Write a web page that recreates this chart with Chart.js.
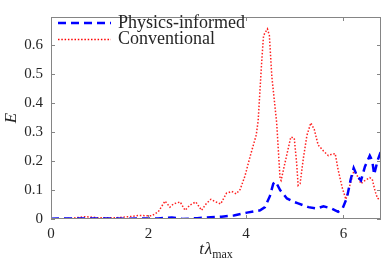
<!DOCTYPE html>
<html lang="en">
<head>
  <meta charset="UTF-8" />
  <title>E vs t lambda max</title>
  <script src="https://cdn.jsdelivr.net/npm/chart.js"></script>
  <style>
    html, body { margin: 0; padding: 0; background: #fff; }
    .wrap { width: 383px; height: 266px; }
  </style>
</head>
<body>
  <div class="wrap"><canvas id="errChart" width="383" height="266"></canvas></div>
  <script>
    // data
    const physT = [0, 0.4, 0.8, 1.2, 1.6, 2.0, 2.2, 2.48, 2.7, 3.0, 3.5, 3.75, 4.02, 4.29, 4.39, 4.49, 4.56, 4.61, 4.70, 4.84, 4.97, 5.07, 5.28, 5.45, 5.59, 5.76, 5.89, 5.98, 6.07, 6.15, 6.21, 6.28, 6.36, 6.44, 6.54, 6.59, 6.63, 6.70, 6.77];
    const physE = [0.001, 0.002, 0.002, 0.002, 0.001, 0.002, 0.002, 0.005, 0.0, 0.003, 0.008, 0.012, 0.022, 0.03, 0.041, 0.079, 0.122, 0.129, 0.10, 0.071, 0.06, 0.054, 0.041, 0.036, 0.044, 0.036, 0.025, 0.036, 0.073, 0.138, 0.176, 0.149, 0.133, 0.181, 0.219, 0.202, 0.154, 0.202, 0.235];

    const convT = [0, 0.4, 0.7, 1.0, 1.3, 1.6, 1.8, 2.07, 2.2, 2.34, 2.44, 2.51, 2.65, 2.75, 2.85, 2.97, 3.09, 3.18, 3.28, 3.37, 3.48, 3.6, 3.71, 3.8, 3.88, 3.98, 4.08, 4.21, 4.25, 4.32, 4.36, 4.44, 4.48, 4.53, 4.63, 4.70, 4.72, 4.84, 4.92, 4.99, 5.04, 5.07, 5.11, 5.18, 5.25, 5.33, 5.40, 5.48, 5.59, 5.69, 5.76, 5.83, 5.89, 5.98, 6.05, 6.13, 6.22, 6.27, 6.36, 6.44, 6.54, 6.59, 6.65, 6.70, 6.77];
    const convE = [0, 0.002, 0.008, 0.004, 0.004, 0.008, 0.012, 0.011, 0.025, 0.062, 0.041, 0.052, 0.059, 0.03, 0.048, 0.059, 0.03, 0.052, 0.068, 0.06, 0.052, 0.089, 0.095, 0.087, 0.102, 0.149, 0.213, 0.29, 0.34, 0.537, 0.634, 0.657, 0.634, 0.493, 0.332, 0.138, 0.133, 0.224, 0.283, 0.28, 0.192, 0.116, 0.122, 0.213, 0.289, 0.332, 0.31, 0.256, 0.235, 0.219, 0.224, 0.226, 0.17, 0.105, 0.068, 0.116, 0.17, 0.154, 0.122, 0.133, 0.143, 0.138, 0.095, 0.071, 0.068];

    const xTicks = [0, 2, 4, 6];
    const yTicks = [0, 0.1, 0.2, 0.3, 0.4, 0.5, 0.6];
    const seriesNames = ['Physics-informed', 'Conventional'];

    const serif = "'Liberation Serif', 'DejaVu Serif', serif";
    const boxColor = '#858585';
    const textColor = '#262626';

    const toPts = (xs, ys) => xs.map((x, i) => ({ x: x, y: ys[i] }));

    // frame + inward ticks on all four sides
    const frame = {
      id: 'frame',
      afterDatasetsDraw(chart) {
        const { ctx, chartArea: a, scales } = chart;
        ctx.save();
        ctx.strokeStyle = boxColor;
        ctx.lineWidth = 1;
        ctx.strokeRect(Math.round(a.left) + 0.5, Math.round(a.top) + 0.5,
          Math.round(a.right - a.left) - 1, Math.round(a.bottom - a.top) - 1);
        ctx.beginPath();
        xTicks.forEach(v => {
          const px = Math.round(scales.x.getPixelForValue(v)) + 0.5;
          ctx.moveTo(px, a.bottom); ctx.lineTo(px, a.bottom - 4);
          ctx.moveTo(px, a.top); ctx.lineTo(px, a.top + 4);
        });
        yTicks.forEach(v => {
          const py = Math.round(scales.y.getPixelForValue(v)) + 0.5;
          ctx.moveTo(a.left, py); ctx.lineTo(a.left + 4, py);
          ctx.moveTo(a.right, py); ctx.lineTo(a.right - 4, py);
        });
        ctx.stroke();
        ctx.restore();
      }
    };

    // legend in the top left corner and the axis titles
    const labels = {
      id: 'labels',
      afterDraw(chart) {
        const { ctx, chartArea: a } = chart;
        ctx.save();
        const rows = [
          { y: 23, color: '#0000ff', width: 2.5, dash: [8, 5] },
          { y: 39.5, color: '#ff0000', width: 1.5, dash: [1.5, 1.8] }
        ];
        rows.forEach((r, i) => {
          ctx.strokeStyle = r.color;
          ctx.lineWidth = r.width;
          ctx.setLineDash(r.dash);
          ctx.beginPath();
          ctx.moveTo(58, r.y); ctx.lineTo(111, r.y);
          ctx.stroke();
          ctx.setLineDash([]);
          ctx.fillStyle = textColor;
          ctx.font = '18px ' + serif;
          ctx.textBaseline = 'middle';
          ctx.textAlign = 'left';
          ctx.fillText(seriesNames[i], 118, r.y);
        });

        // y title
        ctx.fillStyle = textColor;
        ctx.save();
        ctx.translate(12, (a.top + a.bottom) / 2);
        ctx.rotate(-Math.PI / 2);
        ctx.font = 'italic 17px ' + serif;
        ctx.textAlign = 'center';
        ctx.textBaseline = 'middle';
        ctx.fillText('E', 0, 0);
        ctx.restore();

        // x title: t lambda_max
        const cx = (a.left + a.right) / 2;
        const base = 254;
        ctx.textBaseline = 'alphabetic';
        ctx.textAlign = 'left';
        ctx.font = 'italic 17px ' + serif;
        const wT = ctx.measureText('t').width;
        const wL = ctx.measureText('λ').width;
        ctx.font = '12px ' + serif;
        const wM = ctx.measureText('max').width;
        let x0 = cx - (wT + 1 + wL + wM) / 2;
        ctx.font = 'italic 17px ' + serif;
        ctx.fillText('t', x0, base);
        ctx.fillText('λ', x0 + wT + 1, base);
        ctx.font = '12px ' + serif;
        ctx.fillText('max', x0 + wT + 1 + wL, base + 4);
        ctx.restore();
      }
    };

    const ctx = document.getElementById('errChart').getContext('2d');
    new Chart(ctx, {
      type: 'line',
      data: {
        datasets: [
          {
            label: seriesNames[0],
            data: toPts(physT, physE),
            borderColor: '#0000ff',
            borderWidth: 2.5,
            borderDash: [8, 5],
            pointRadius: 0,
            tension: 0,
            fill: false
          },
          {
            label: seriesNames[1],
            data: toPts(convT, convE),
            borderColor: '#ff2020',
            borderWidth: 1.5,
            borderDash: [1.5, 1.8],
            pointRadius: 0,
            tension: 0,
            fill: false
          }
        ]
      },
      options: {
        responsive: false,
        animation: false,
        layout: { padding: { top: 3, right: 2, left: 0, bottom: 0 } },
        plugins: { legend: { display: false }, tooltip: { enabled: false } },
        scales: {
          x: {
            type: 'linear',
            min: 0,
            max: 6.77,
            afterBuildTicks: s => { s.ticks = xTicks.map(v => ({ value: v })); },
            afterFit: s => { s.height = 47; },
            grid: { display: false, drawTicks: false },
            border: { display: false },
            ticks: { color: textColor, font: { family: serif, size: 15 }, padding: 6, maxRotation: 0 }
          },
          y: {
            min: 0,
            max: 0.698,
            afterBuildTicks: s => { s.ticks = yTicks.map(v => ({ value: v })); },
            afterFit: s => { s.width = 51; },
            grid: { display: false, drawTicks: false },
            border: { display: false },
            ticks: { color: textColor, font: { family: serif, size: 15 }, padding: 8,
              callback: v => (v === 0 ? '0' : v.toFixed(1)) }
          }
        }
      },
      plugins: [frame, labels]
    });
  </script>
</body>
</html>
